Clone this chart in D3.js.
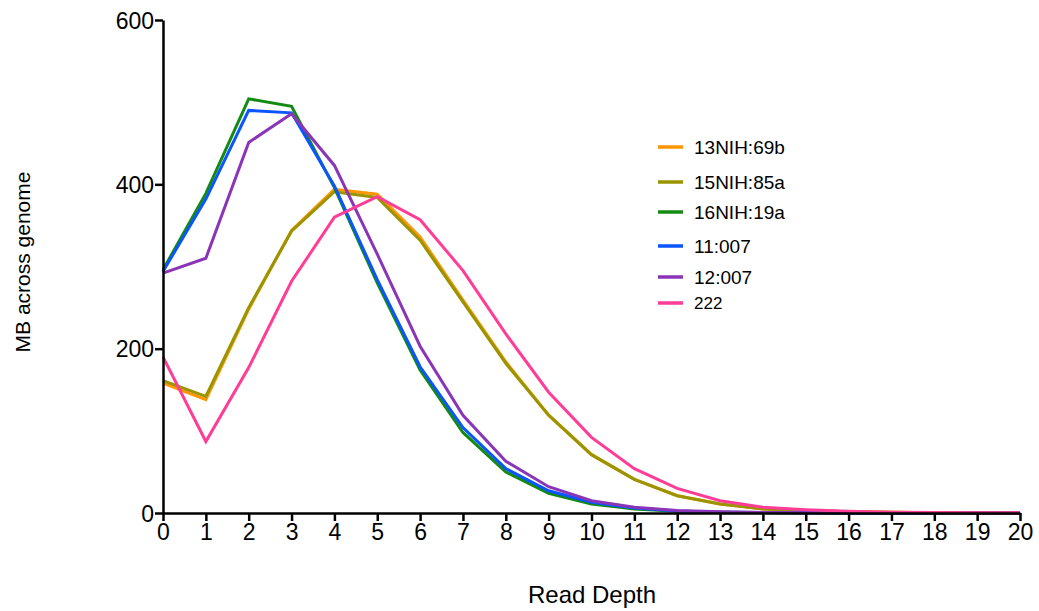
<!DOCTYPE html>
<html>
<head>
<meta charset="utf-8">
<script src="https://cdn.jsdelivr.net/npm/d3@7"></script>
<style>
  body { margin: 0; background: #fff; }
  text { font-family: Arial, "Liberation Sans", sans-serif; fill: #000; }
</style>
</head>
<body>
<div id="chart"></div>
<script>
// read depth categories (x axis)
const depths = [0,1,2,3,4,5,6,7,8,9,10,11,12,13,14,15,16,17,18,19,20];
const yTicks = [0, 200, 400, 600];

// series names + colours
const seriesNames = ["13NIH:69b", "15NIH:85a", "16NIH:19a", "11:007", "12:007", "222"];
const seriesColors = ["#ff9500", "#999400", "#138a13", "#0a55ff", "#8a35b8", "#ff3d96"];

// MB across genome per read depth
const nih13 = [158,138,248,344,394,388,336,259,184,119,71,41,21,11,5,3,1.5,0.8,0.4,0.2,0.1];
const nih15 = [161,142,250,343,391,384,332,257,182,119,71,41,21,11,5,3,1.5,0.8,0.4,0.2,0.1];
const nih16 = [296,389,504,495,396,280,174,98,50,24,11,5,2,1,0.5,0.2,0.1,0,0,0,0];
const s11 = [294,382,490,487,398,284,178,104,54,27,13,6,2.5,1,0.5,0.2,0.1,0,0,0,0];
const s12 = [292,310,451,486,423,315,203,119,63,32,15,7,3,1.5,0.7,0.3,0.1,0,0,0,0];
const s222 = [190,87,177,282,360,385,357,295,218,147,92,54,30,15,7,4,2,1,0.5,0.3,0.2];

const allSeries = [nih13, nih15, nih16, s11, s12, s222];

const width = 1039, height = 611;
const margin = { top: 20, right: 19, bottom: 98, left: 163 };

const svg = d3.select("#chart").append("svg")
    .attr("width", width)
    .attr("height", height);

const x = d3.scaleLinear()
    .domain([0, 20])
    .range([margin.left, width - margin.right]);

const y = d3.scaleLinear()
    .domain([0, 600])
    .range([height - margin.bottom, margin.top]);

// lines
const line = d3.line()
    .x((d, i) => x(depths[i]))
    .y(d => y(d));

allSeries.forEach((vals, i) => {
    svg.append("path")
        .datum(vals)
        .attr("fill", "none")
        .attr("stroke", seriesColors[i])
        .attr("stroke-width", 3)
        .attr("stroke-linejoin", "miter")
        .attr("d", line);
});

// x axis
const xAxis = svg.append("g")
    .attr("transform", `translate(0,${height - margin.bottom})`)
    .call(d3.axisBottom(x).tickValues(depths).tickFormat(d3.format("d")).tickSize(8).tickSizeOuter(0));

// y axis
const yAxis = svg.append("g")
    .attr("transform", `translate(${margin.left},0)`)
    .call(d3.axisLeft(y).tickValues(yTicks).tickSize(8).tickSizeOuter(0));

[xAxis, yAxis].forEach(g => {
    g.select(".domain").attr("stroke", "#000").attr("stroke-width", 2.5);
    g.selectAll(".tick line").attr("stroke", "#000").attr("stroke-width", 2.5);
    g.selectAll(".tick text").style("font-size", "23px")
        .style("font-family", "Arial, 'Liberation Sans', sans-serif");
});
xAxis.selectAll(".tick text").attr("dy", "0.75em").attr("y", 10);
yAxis.selectAll(".tick text").attr("x", -9).attr("dy", "0.35em");

// axis titles
svg.append("text")
    .attr("x", 592)
    .attr("y", 603)
    .attr("text-anchor", "middle")
    .style("font-size", "24px")
    .text("Read Depth");

svg.append("text")
    .attr("transform", "translate(30,262) rotate(-90)")
    .attr("text-anchor", "middle")
    .style("font-size", "21px")
    .text("MB across genome");

// legend
const legendY = [147, 182, 212, 246, 277, 303];
const legend = svg.append("g");
seriesNames.forEach((name, i) => {
    legend.append("line")
        .attr("x1", 658).attr("x2", 683)
        .attr("y1", legendY[i]).attr("y2", legendY[i])
        .attr("stroke", seriesColors[i])
        .attr("stroke-width", 3.5);
    legend.append("text")
        .attr("x", 694)
        .attr("y", legendY[i])
        .attr("dy", "0.36em")
        .style("font-size", i === 5 ? "17px" : "19px")
        .text(name);
});
</script>
</body>
</html>
